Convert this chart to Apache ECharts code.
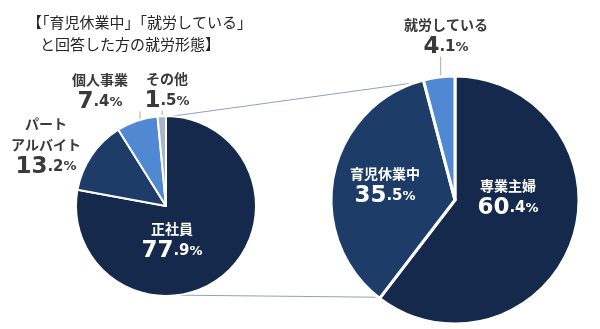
<!DOCTYPE html>
<html>
<head>
<meta charset="utf-8">
<script src="https://cdn.jsdelivr.net/npm/echarts@6/dist/echarts.min.js"></script>
<style>
html,body{margin:0;padding:0;background:#fff;}
#c{width:600px;height:329px;}
</style>
</head>
<body>
<div id="c"></div>
<script>
// ---- data ----
const titleLines = ['【「育児休業中」「就労している」', 'と回答した方の就労形態】'];
const leftNames = ['正社員', 'パート\nアルバイト', '個人事業', 'その他'];
const leftValues = [77.9, 13.2, 7.4, 1.5];
const rightNames = ['専業主婦', '育児休業中', '就労している'];
const rightValues = [60.4, 35.5, 4.1];

// ---- styles / layout ----
const leftColors = ['#14294c', '#1d3c68', '#5089d2', '#a7b5ca'];
const rightColors = ['#14294c', '#1d3c68', '#5089d2'];
const leftCenter = [166, 206], leftR = 90;
const rightCenter = [455, 200], rightR = 124;
const centers = [leftCenter, rightCenter], radii = [leftR, rightR];
const labelPos = [
  [[172, 241], [46, 146], [100, 92], [167, 91]],
  [[508, 198], [385, 186], [446, 37]]
];
const insideLeft = [true, false, false, false];
const insideRight = [true, true, false];
const guided = [[false, false, true, true], [false, false, true]];

const rich = {
  n: {fontFamily: 'Noto Sans CJK JP', fontWeight: 'bold', fontSize: 14, lineHeight: 21, align: 'center'},
  i: {fontFamily: 'DejaVu Sans', fontWeight: 'bold', fontSize: 23, lineHeight: 24},
  d: {fontFamily: 'DejaVu Sans', fontWeight: 'bold', fontSize: 15, lineHeight: 24},
  p: {fontFamily: 'DejaVu Sans', fontWeight: 'bold', fontSize: 13, lineHeight: 24}
};
function fmt(p) {
  const s = p.value.toFixed(1).split('.');
  return '{n|' + p.name + '}\n{i|' + s[0] + '}{d|.' + s[1] + '}{p|%}';
}
function mkData(names, values, colors, inside, guide) {
  return names.map((n, k) => ({
    name: n, value: values[k],
    itemStyle: {color: colors[k]},
    label: inside[k] ? {position: 'inside', color: '#ffffff'} : {color: '#3a3a3a'},
    labelLine: {show: guide[k]}
  }));
}
function pt(c, r, frac) {
  const a = frac * 2 * Math.PI;
  return [c[0] + r * Math.sin(a), c[1] - r * Math.cos(a)];
}
const allValues = [leftValues, rightValues];
function midFrac(si, di) {
  const v = allValues[si];
  const tot = v.reduce((a, b) => a + b, 0);
  let cum = 0;
  for (let k = 0; k < di; k++) cum += v[k];
  return (cum + v[di] / 2) / tot;
}
const rSum = rightValues.reduce((a, b) => a + b, 0);
const lVisR = leftR - 1, rVisR = rightR - 1.5;
const topL = pt(leftCenter, lVisR, 0);
const topR = pt(rightCenter, rVisR, (rSum - rightValues[rightValues.length - 1]) / rSum);
const botL = pt(leftCenter, lVisR, 0.5);
const botR = pt(rightCenter, rVisR, rightValues[0] / rSum);

const chart = echarts.init(document.getElementById('c'), null, {renderer: 'canvas'});
const labelLayout = p => {
  const q = labelPos[p.seriesIndex][p.dataIndex];
  const out = {x: q[0], y: q[1], align: 'center', verticalAlign: 'middle'};
  if (guided[p.seriesIndex][p.dataIndex]) {
    const s = pt(centers[p.seriesIndex], radii[p.seriesIndex] * 0.9, midFrac(p.seriesIndex, p.dataIndex));
    const bottom = q[1] + p.labelRect.height / 2 - 1;
    out.labelLinePoints = [[s[0], s[1]], [s[0], (s[1] + bottom) / 2], [s[0], bottom]];
  }
  return out;
};
chart.setOption({
  backgroundColor: '#ffffff',
  animation: false,
  graphic: [
    {type: 'text', left: 27, top: 15, style: {text: titleLines[0], font: '15px "Noto Sans CJK JP"', fill: '#262626'}},
    {type: 'text', left: 40, top: 37, style: {text: titleLines[1], font: '15px "Noto Sans CJK JP"', fill: '#262626'}},
    {type: 'line', shape: {x1: topL[0], y1: topL[1], x2: topR[0], y2: topR[1]}, style: {stroke: '#8fa2be', lineWidth: 1}, z: 0},
    {type: 'line', shape: {x1: botL[0], y1: botL[1], x2: botR[0], y2: botR[1]}, style: {stroke: '#8fa2be', lineWidth: 1}, z: 0}
  ],
  series: [
    {
      type: 'pie', center: leftCenter, radius: leftR, startAngle: 90, clockwise: true,
      avoidLabelOverlap: false,
      itemStyle: {borderColor: '#fff', borderWidth: 2},
      label: {show: true, position: 'outside', formatter: fmt, rich: rich},
      labelLine: {show: true, length: 5, length2: 5, lineStyle: {color: '#c6a38c', width: 1}},
      labelLayout: labelLayout,
      emphasis: {disabled: true},
      data: mkData(leftNames, leftValues, leftColors, insideLeft, guided[0])
    },
    {
      type: 'pie', center: rightCenter, radius: rightR, startAngle: 90, clockwise: true,
      avoidLabelOverlap: false,
      itemStyle: {borderColor: '#fff', borderWidth: 3},
      label: {show: true, position: 'outside', formatter: fmt, rich: rich},
      labelLine: {show: true, length: 5, length2: 5, lineStyle: {color: '#c6a38c', width: 1}},
      labelLayout: labelLayout,
      emphasis: {disabled: true},
      data: mkData(rightNames, rightValues, rightColors, insideRight, guided[1])
    }
  ]
});
</script>
</body>
</html>
